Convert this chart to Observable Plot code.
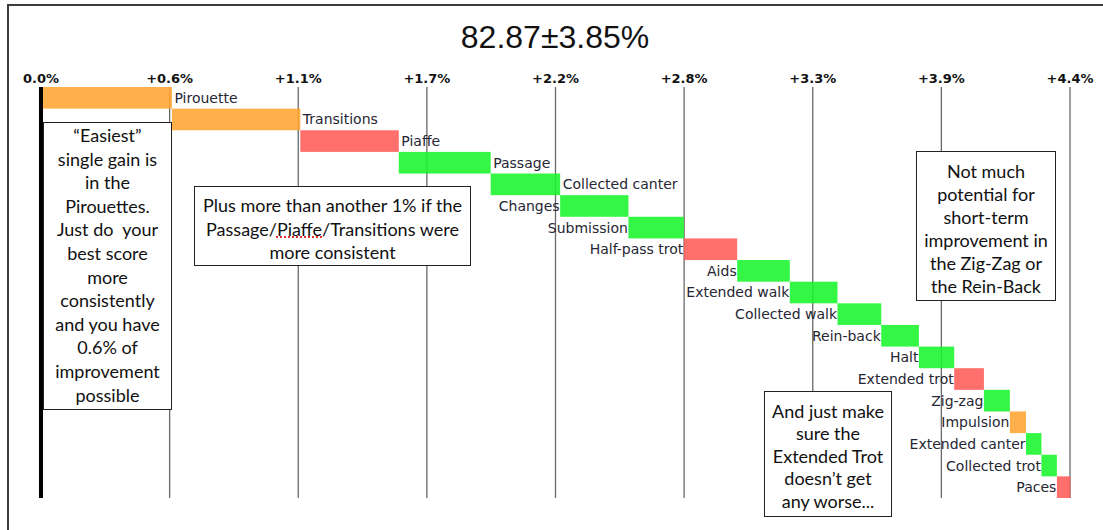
<!DOCTYPE html>
<html>
<head>
<meta charset="utf-8">
<script src="https://cdn.jsdelivr.net/npm/d3@7"></script>
<script src="https://cdn.jsdelivr.net/npm/@observablehq/plot@0.6"></script>
<style>
html, body { margin: 0; padding: 0; background: #fff; }
#wrap { position: relative; width: 1103px; height: 530px; overflow: hidden; }
#frame { position: absolute; left: 7px; top: 4px; width: 1200px; height: 700px;
  border-top: 2px solid #3c3c3c; border-left: 2px solid #3c3c3c; }
#title { position: absolute; left: 0; top: 0; width: 1110px; height: 58px; box-sizing: border-box;
  padding-top: 21px; text-align: center; font-family: "Liberation Sans", Arial, sans-serif;
  font-size: 32px; line-height: 32px; color: #111; }
#chart { position: absolute; left: 0; top: 58px; }
.note { position: absolute; background: #fff; border: 1.5px solid #222; box-sizing: border-box;
  font-family: Lato, "Open Sans", sans-serif; font-size: 18px; text-align: center; color: #111;
  white-space: nowrap; }
.sp { text-decoration: underline dotted #e03030; }
</style>
</head>
<body>
<div id="wrap">
  <div id="frame"></div>
  <div id="title"></div>
  <div id="chart"></div>
  <div class="note" style="left:43px;top:122px;width:129px;height:288px;padding-top:1px;line-height:23.6px;">“Easiest”<br>single gain is<br>in the<br>Pirouettes.<br>Just do&nbsp; your<br>best score<br>more<br>consistently<br>and you have<br>0.6% of<br>improvement<br>possible</div>
  <div class="note" style="left:194px;top:186px;width:277px;height:80px;padding-top:7px;line-height:23.5px;">Plus more than another 1% if the<br>Passage/<span class="sp">Piaffe</span>/Transitions were<br>more consistent</div>
  <div class="note" style="left:916px;top:151px;width:140px;height:150px;padding-top:7.5px;line-height:23px;">Not much<br>potential for<br>short-term<br>improvement in<br>the Zig-Zag or<br>the Rein-Back</div>
  <div class="note" style="left:764px;top:391px;width:128px;height:126px;padding-top:7.5px;line-height:22.5px;">And just make<br>sure the<br>Extended Trot<br>doesn’t get<br>any worse...</div>
</div>
<script>
const title = "82.87±3.85%";
const categories = ["Pirouette", "Transitions", "Piaffe", "Passage", "Collected canter", "Changes",
  "Submission", "Half-pass trot", "Aids", "Extended walk", "Collected walk", "Rein-back", "Halt",
  "Extended trot", "Zig-zag", "Impulsion", "Extended canter", "Collected trot", "Paces"];
const gains = [0.562, 0.549, 0.421, 0.393, 0.297, 0.292, 0.237, 0.228, 0.225, 0.204, 0.187,
  0.161, 0.151, 0.127, 0.111, 0.069, 0.066, 0.066, 0.058];
const groups = ["gain", "gain", "risk", "ok", "ok", "ok", "ok", "risk", "ok", "ok", "ok", "ok",
  "ok", "risk", "ok", "gain", "ok", "ok", "risk"];
const tickValues = [0, 0.55, 1.1, 1.65, 2.2, 2.75, 3.3, 3.85, 4.4];
const tickLabels = ["0.0%", "+0.6%", "+1.1%", "+1.7%", "+2.2%", "+2.8%", "+3.3%", "+3.9%", "+4.4%"];

document.getElementById("title").textContent = title;

let acc = 0;
const rows = categories.map((name, i) => {
  const x1 = acc;
  acc += gains[i];
  return {name, i, x1, x2: acc, group: groups[i]};
});

const labelStyle = {fontFamily: "DejaVu Sans", fontSize: 14, fill: "#262633"};

const chart = Plot.plot({
  width: 1103,
  height: 472,
  marginTop: 29,
  marginBottom: 32,
  marginLeft: 40.5,
  marginRight: 33.5,
  x: {domain: [0, 4.4], axis: null},
  y: {domain: categories, axis: null, padding: 0, round: false},
  color: {domain: ["gain", "risk", "ok"], range: ["#FFA532", "#FF5B57", "#17F62A"]},
  style: {background: "transparent", overflow: "visible"},
  marks: [
    Plot.ruleX(tickValues.slice(1), {stroke: "#6a6a6a", strokeWidth: 1.3}),
    Plot.barX(rows, {y: "name", x1: "x1", x2: "x2", fill: "group", fillOpacity: 0.88}),
    Plot.ruleX([0], {stroke: "#000", strokeWidth: 4}),
    Plot.axisX(tickValues, {
      anchor: "top", tickSize: 0, tickPadding: 5,
      tickFormat: d => tickLabels[tickValues.indexOf(d)],
      fontWeight: "bold", fontSize: 13, fontFamily: "DejaVu Sans", fill: "#111"
    }),
    Plot.text(rows.filter(d => d.i < 5), {y: "name", x: "x2", text: "name", textAnchor: "start", dx: 2, ...labelStyle}),
    Plot.text(rows.filter(d => d.i >= 5), {y: "name", x: "x1", text: "name", textAnchor: "end", dx: -1, ...labelStyle})
  ]
});
document.getElementById("chart").appendChild(chart);
</script>
</body>
</html>
